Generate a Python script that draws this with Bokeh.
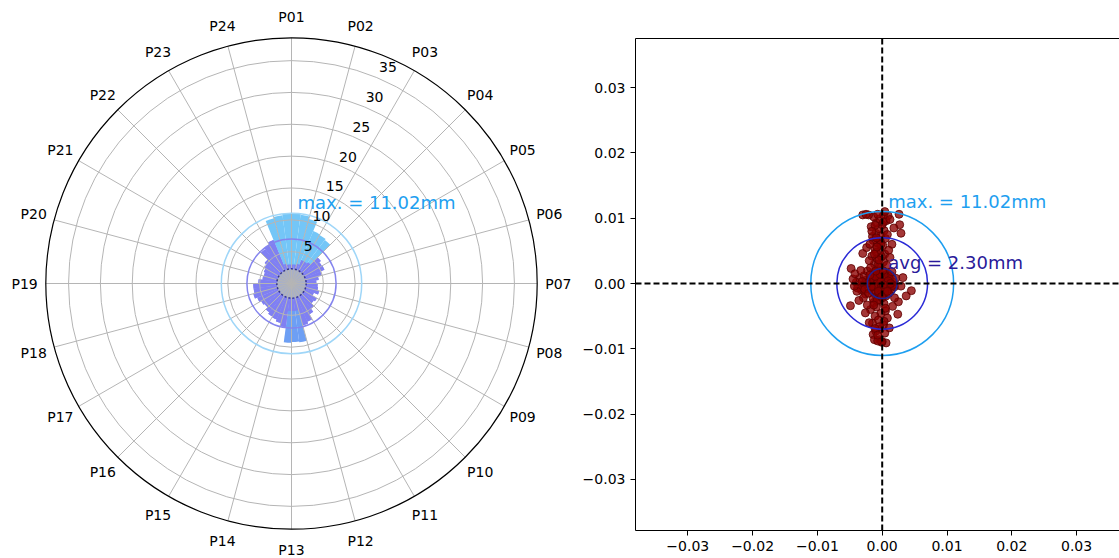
import math
from bokeh.plotting import figure
from bokeh.layouts import row
from bokeh.models import (ColumnDataSource, LinearAxis, FixedTicker, CustomJSTickFormatter,
                          LinearColorMapper, Range1d)
from bokeh.embed import file_html
from bokeh.resources import INLINE
from bokeh.core.properties import value

FONT = "DejaVu Sans"

# ---------------- data ----------------
direction_labels = [f"P{i:02d}" for i in range(1, 25)]
radial_ticks = [5, 10, 15, 20, 25, 30, 35]

bin_width_deg = 7.5
bin_start_deg = [i * 7.5 for i in range(48)]
outer_r = [11.0, 10.9, 10.5, 8.9, 8.8, 8.6, 5.8, 5.5, 5.6, 4.9, 4.3, 3.9,
           4.1, 4.2, 4.5, 3.8, 4.6, 4.4, 5.0, 5.6, 6.5, 6.8, 9.3, 9.2,
           9.3, 6.9, 6.4, 6.1, 6.0, 5.7, 5.3, 5.5, 5.8, 6.2, 6.0, 6.0,
           5.2, 4.6, 4.5, 4.7, 4.9, 5.3, 6.8, 7.0, 7.4, 10.6, 10.8, 11.02]
inner_r = [3.0, 3.0, 3.2, 4.0, 4.0, 4.2, 5.8, 5.5, 5.6, 4.9, 4.3, 3.9,
           4.1, 4.2, 4.5, 3.8, 4.6, 4.4, 5.0, 5.6, 6.5, 6.8, 4.3, 4.3,
           4.3, 6.9, 6.4, 6.1, 6.0, 5.7, 5.3, 5.5, 5.8, 6.2, 6.0, 6.0,
           5.2, 4.6, 4.5, 4.7, 4.9, 5.3, 6.8, 7.0, 7.4, 3.2, 3.0, 3.0]
hits = [40, 40, 40, 35, 35, 35, 5, 5, 5, 5, 5, 5,
        5, 5, 5, 5, 5, 5, 5, 5, 5, 5, 20, 20,
        20, 5, 5, 5, 5, 5, 5, 5, 5, 5, 5, 5,
        5, 5, 5, 5, 5, 5, 5, 5, 5, 40, 40, 40]

max_mm = 11.02
avg_mm = 2.30
mid_mm = 7.0
r_max = 38.57

x_mm = [0.0, 0.3, -0.4, 0.8, -0.9, 0.5, -1.2, 1.1, -0.2, 0.4, -1.5, 1.4, -0.7, 0.9, -1.8,
        1.7, -1.1, 0.2, -0.3, 1.9, -2.0, 0.6, -1.4, 1.3, -0.6, 2.1, -2.2, -0.9, 0.1, -0.5,
        0.7, -0.1, 1.0, -1.6, 0.3, -1.0, 1.5, -0.8, 0.6, -1.3, 1.2, -0.4, -1.9, 0.9, -0.2,
        -1.7, 1.6, -0.6, 0.2, -1.1,
        -2.5, -3.0, -3.5, -4.0, -2.8, -3.2, -4.5, -4.8, -2.6, -3.8, -2.3, -4.2, -3.3, -2.9,
        -4.9, -3.6,
        -0.5, -1.2, 0.2, -0.8, -1.6, 0.4, -0.3, -1.1, 0.1, -0.7, -1.4, 0.5, -0.2, -1.0, 0.3,
        -0.6, -1.7, 0.0, -0.9, 0.6, -0.4, -1.3, 0.2, -0.7, -2.1, -3.0, -2.5, 0.9, 0.4, 2.6,
        2.7, 2.9, 1.8, 1.5, 1.2, -3.0, -2.4, -2.0, -1.8, 0.7, 1.0, -0.1, -0.9, -1.5, 0.8,
        -0.3, -1.9, 0.2, -1.1, 1.2,
        -0.4, -1.3, 0.3, -0.9, -1.8, 0.5, -0.2, -1.1, 0.8, -0.6, -1.5, 0.2, -2.0, 1.1, -0.3,
        -1.0, 0.4, -1.4, -0.4, -1.2, 0.6, 0.0, -0.1, 2.4, 3.7, 4.5, 2.9, 3.2, 2.5, 1.6,
        1.9, -2.3, -2.6, -0.7,
        -0.3, 0.1, -0.6, -1.0, 0.4, -1.4, -0.8, 0.0, -0.5, -1.2, -2.4, -2.7, -3.1, -3.9, -4.3,
        -1.9, -2.1, 0.8, 1.3, -0.2, -0.9, -1.6, 0.3, -0.4, -1.1, -0.7, 0.5, -1.3, -0.1, -0.8]
y_mm = [0.0, 0.2, 0.5, -0.3, -0.6, 0.9, 0.3, 0.6, -1.1, -0.8, -0.2, -0.9, 1.3, 1.5, 0.9,
        0.2, -1.4, 1.8, -1.7, -0.5, -0.8, -1.9, 1.7, 1.2, 2.1, 0.8, 0.1, -2.0, 0.6, -0.3,
        0.1, -0.5, -1.5, -1.1, 1.2, 0.8, 1.8, 0.0, -0.6, -0.4, -0.2, 1.0, 0.4, 0.4, 0.3,
        -0.5, -0.3, -1.2, -0.2, 1.1,
        0.5, -0.3, 0.8, 0.2, 1.2, -1.0, 0.7, 2.3, -1.6, -0.7, 1.9, 1.5, 2.0, -2.2,
        -3.4, -2.6,
        2.5, 3.0, 3.3, 3.8, 4.2, 4.5, 5.0, 5.3, 5.8, 6.2, 6.6, 6.9, 7.3, 7.7, 8.1,
        8.4, 8.7, 9.0, 9.3, 9.6, 9.9, 10.2, 10.5, 10.6, 10.5, 10.5, 10.6, 10.4, 11.01, 10.6,
        9.0, 7.7, 8.5, 6.0, 4.0, 4.6, 5.5, 3.5, 2.4, 2.8, 5.1, 4.1, 4.8, 7.2, 7.5,
        6.5, 6.0, 9.4, 8.9, 9.8,
        -2.5, -2.9, -3.1, -3.6, -4.0, -4.2, -4.6, -5.0, -5.3, -5.6, -6.1, -6.4, -6.0, -6.8, -7.0,
        -7.3, -7.6, -7.8, -8.6, -8.6, -9.1, -8.9, -9.0, -4.7, -1.9, -1.1, -0.4, 0.9, -2.8, -3.5,
        -2.2, -3.3, -4.5, -8.8,
        1.4, 2.0, 2.9, 1.9, -1.3, -2.3, -2.6, -2.2, 3.6, 4.5, 0.0, -0.9, 0.3, -1.2, -0.4,
        1.3, -1.5, -1.2, 0.0, 6.0, 7.0, 8.0, -5.8, -6.6, -6.9, -7.9, -3.8, -3.3, -2.0, 5.6]

xy_ticks = [-0.03, -0.02, -0.01, 0.0, 0.01, 0.02, 0.03]

# ---------------- colours ----------------
C_MAX = "#1e9ff0"
C_MID = "#2a2ad6"
C_AVG = "#22228f"
C_AVG_TXT = "#2a1a9a"
GRID = "#b5b5b5"

H = 558
ZERO_Y = 283          # screen row of the centre / zero line

# ---------------- polar (left) ----------------
scale = 6.37          # px per unit
W1 = 580
cx = 291
p1 = figure(width=W1, height=H, output_backend="svg", toolbar_location=None,
            x_range=Range1d(-cx / scale, (W1 - cx) / scale),
            y_range=Range1d(-(H - ZERO_Y) / scale, ZERO_Y / scale),
            x_axis_type=None, y_axis_type=None, min_border=0)
p1.grid.visible = False
p1.outline_line_color = None

starts = [math.radians(90 - (s + bin_width_deg)) for s in bin_start_deg]
ends = [math.radians(90 - s) for s in bin_start_deg]
bsrc = ColumnDataSource(dict(start=starts, end=ends, outer=outer_r, inner=inner_r, hits=hits))
mapper = LinearColorMapper(palette=["#8080f2", "#6d9ff4", "#74c6f7"], low=0, high=45)
p1.wedge(x=0, y=0, radius="outer", start_angle="start", end_angle="end",
         fill_color={"field": "hits", "transform": mapper}, line_color=None, source=bsrc)
p1.wedge(x=0, y=0, radius="inner", start_angle="start", end_angle="end",
         fill_color="#8080f2", line_color=None, source=bsrc)

p1.circle(x=[0], y=[0], radius=[avg_mm], fill_color="#a9b0c6", line_color=None)

n = len(direction_labels)
th = [2 * math.pi * k / n for k in range(n)]
p1.segment(x0=[0] * n, y0=[0] * n, x1=[r_max * math.sin(t) for t in th],
           y1=[r_max * math.cos(t) for t in th], line_color=GRID, line_width=1)
p1.circle(x=[0] * len(radial_ticks), y=[0] * len(radial_ticks), radius=radial_ticks,
          fill_color=None, line_color=GRID, line_width=1)

p1.circle(x=[0], y=[0], radius=[max_mm], fill_color=None, line_color="#9fd6f8", line_width=1.5)
p1.circle(x=[0], y=[0], radius=[mid_mm], fill_color=None, line_color="#8585ee", line_width=1.5)
p1.circle(x=[0], y=[0], radius=[avg_mm], fill_color=None, line_color="#34348f",
          line_width=1.5, line_dash="2 2")
p1.circle(x=[0], y=[0], radius=[r_max], fill_color=None, line_color="black", line_width=1.2)

lab_r = 41.9
p1.text(x=[lab_r * math.sin(t) for t in th], y=[lab_r * math.cos(t) for t in th],
        text=direction_labels, text_align="center", text_baseline="middle",
        text_font=value(FONT), text_font_size="14px", text_color="black")
ang = math.radians(24.0)
p1.text(x=[(1.027 * r + 1.27) * math.sin(ang) for r in radial_ticks],
        y=[(1.027 * r + 1.27) * math.cos(ang) for r in radial_ticks],
        text=[str(r) for r in radial_ticks], text_align="center", text_baseline="middle",
        text_font=value(FONT), text_font_size="14px", text_color="black")
p1.text(x=[0], y=[max_mm], text=[f"max. = {max_mm:.2f}mm"], x_offset=6,
        text_align="left", text_baseline="bottom",
        text_font=value(FONT), text_font_size="18px", text_color=C_MAX)

# ---------------- scatter (right) ----------------
W2 = 1119 - W1
px_x = 6480.0
px_y = 6530.0
X_ZERO = 881.7 - W1                       # zero column inside p2
box_x0 = -(X_ZERO - 55) / px_x            # left edge of the framed box (page x=635)
box_y1 = (ZERO_Y - 38) / px_y             # top edge (page y=38)
box_y0 = -(530 - ZERO_Y) / px_y           # bottom edge (page y=530)
xr = Range1d(-X_ZERO / px_x, (W2 - X_ZERO) / px_x)
yr = Range1d(-(H - ZERO_Y) / px_y, ZERO_Y / px_y)
box_x1 = xr.end

p2 = figure(width=W2, height=H, output_backend="svg", toolbar_location=None,
            x_range=xr, y_range=yr, x_axis_type=None, y_axis_type=None, min_border=0)
p2.grid.visible = False
p2.outline_line_color = None

fmt = CustomJSTickFormatter(code="return (tick < -1e-9 ? '\u2212' : '') + Math.abs(tick).toFixed(2);")
axis_style = dict(axis_line_color="black", axis_line_width=1, major_tick_line_color="black",
                  major_tick_out=5, major_tick_in=0, minor_tick_line_color=None,
                  major_label_standoff=5, major_label_text_font=FONT,
                  major_label_text_font_size="14px", major_label_text_color="black")
xaxis = LinearAxis(ticker=FixedTicker(ticks=xy_ticks), formatter=fmt, fixed_location=box_y0,
                   bounds=(box_x0, box_x1), **axis_style)
yaxis = LinearAxis(ticker=FixedTicker(ticks=xy_ticks), formatter=fmt, fixed_location=box_x0,
                   bounds=(box_y0, box_y1), **axis_style)
topaxis = LinearAxis(ticker=FixedTicker(ticks=[]), fixed_location=box_y1,
                     bounds=(box_x0, box_x1), axis_line_color="black", axis_line_width=1,
                     major_tick_line_color=None, minor_tick_line_color=None,
                     major_label_text_font_size="0px")
p2.add_layout(xaxis, "below")
p2.add_layout(yaxis, "left")
p2.add_layout(topaxis, "above")

xs = [v / 1000 for v in x_mm]
ys = [v / 1000 for v in y_mm]
p2.scatter(xs, ys, size=8, fill_color="#8b0000", fill_alpha=0.78,
           line_color="#5e0000", line_alpha=0.8)

for r, c in ((max_mm, C_MAX), (mid_mm, C_MID), (avg_mm, C_AVG)):
    p2.ellipse(x=[0], y=[0], width=[2 * r / 1000], height=[2 * r / 1000],
               fill_color=None, line_color=c, line_width=1.5)

p2.segment(x0=[box_x0, 0], y0=[0, box_y0], x1=[box_x1, 0], y1=[0, box_y1],
           line_color="black", line_width=2, line_dash="6 3")

p2.text(x=[0], y=[max_mm / 1000], text=[f"max. = {max_mm:.2f}mm"], x_offset=6,
        text_align="left", text_baseline="bottom",
        text_font=value(FONT), text_font_size="18px", text_color=C_MAX)
p2.text(x=[0], y=[avg_mm / 1000], text=[f"avg = {avg_mm:.2f}mm"], x_offset=6, y_offset=5,
        text_align="left", text_baseline="bottom",
        text_font=value(FONT), text_font_size="18px", text_color=C_AVG_TXT)

layout = row(p1, p2)
open("out.html", "w").write(file_html(layout, INLINE))
